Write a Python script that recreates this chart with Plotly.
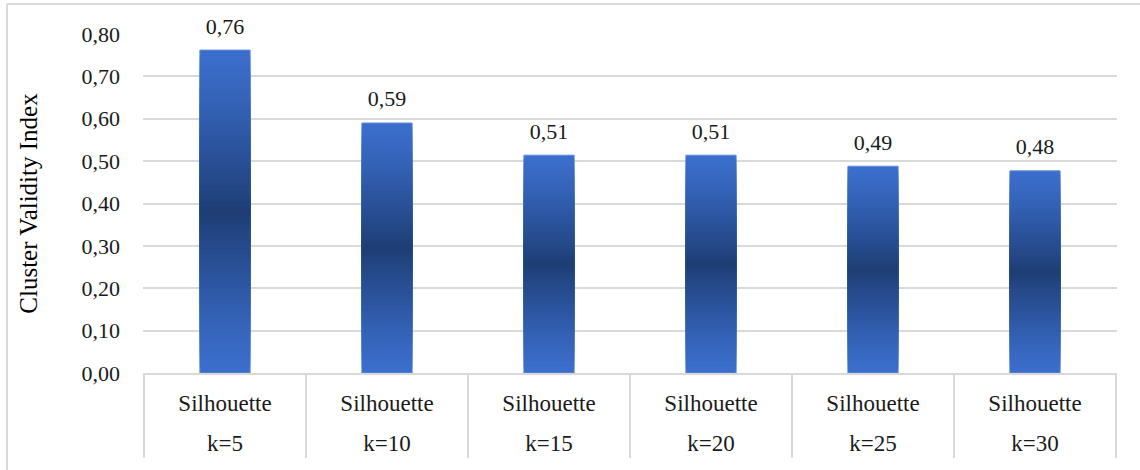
import plotly.graph_objects as go

# ---- data ----
methods = ["Silhouette"] * 6
k_labels = ["k=5", "k=10", "k=15", "k=20", "k=25", "k=30"]
values = [0.762, 0.590, 0.514, 0.514, 0.488, 0.477]
y_tickvals = [0.0, 0.1, 0.2, 0.3, 0.4, 0.5, 0.6, 0.7, 0.8]

FONT = "Liberation Serif, Times New Roman, serif"
TXT = "#1a1a1a"
GRID = "#d9d9d9"
LIGHT = (59, 110, 204)
DARK = (31, 62, 118)

fig = go.Figure()

# gradient: nested bars centred on half height, darker toward the middle
N = 30
for i in range(N):
    f = i / (N - 1)          # 0 -> outer, 1 -> inner
    frac = 1 - f * 0.97      # relative height of this layer
    c = tuple(int(round(LIGHT[j] + (DARK[j] - LIGHT[j]) * f ** 1.2)) for j in range(3))
    bases = [v / 2 * (1 - frac) for v in values]
    heights = [v * frac for v in values]
    fig.add_trace(go.Bar(
        x=k_labels, y=heights, base=bases,
        marker=dict(color="rgb(%d,%d,%d)" % c,
                    line=dict(width=1 if i == 0 else 0, color="rgb(95,140,215)")),
        showlegend=False, hoverinfo="skip",
    ))

# value labels (second x axis carries the k labels row)
fig.add_trace(go.Scatter(
    x=k_labels, y=values, mode="markers+text", xaxis="x2",
    marker=dict(size=16, opacity=0),
    texttemplate="%{y:.2f}",
    textposition="top center",
    textfont=dict(family=FONT, size=22, color=TXT),
    cliponaxis=False,
    showlegend=False, hoverinfo="skip",
))

# category dividers below the axis (category boundaries)
dividers = [dict(type="line", xref="x", yref="paper", x0=i - 0.5, x1=i - 0.5, y0=0, y1=-85 / 339,
                 line=dict(color=GRID, width=2)) for i in range(len(k_labels) + 1)]

fig.update_layout(
    width=1140, height=470,
    margin=dict(l=143, r=23, t=34, b=97),
    paper_bgcolor="white", plot_bgcolor="white",
    barmode="overlay", bargap=0.69,
    separators=", ",
    font=dict(family=FONT, size=22, color=TXT),
    shapes=[
        dict(type="line", xref="paper", yref="paper", x0=-0.14, x1=1.1, y0=1.0885, y1=1.0885,
             line=dict(color=GRID, width=2)),
        dict(type="line", xref="paper", yref="paper", x0=-0.1396, x1=-0.1396, y0=1.0885, y1=-0.3,
             line=dict(color=GRID, width=2)),
    ] + dividers,
    xaxis=dict(
        type="category", tickvals=k_labels, ticktext=methods,
        showline=True, linecolor=GRID, linewidth=2,
        showgrid=False, ticks="", ticklabelstandoff=8,
        tickfont=dict(family=FONT, size=23, color=TXT),
    ),
    xaxis2=dict(
        type="category", overlaying="x", matches="x", anchor="y", side="bottom",
        showline=False, showgrid=False, ticks="", ticklabelstandoff=54,
        tickfont=dict(family=FONT, size=23, color=TXT),
    ),
    yaxis=dict(
        range=[0, 0.8], tickvals=y_tickvals, tickformat=".2f",
        showgrid=True, gridcolor=GRID, gridwidth=2,
        zeroline=False, showline=False,
        ticklabelstandoff=22,
        tickfont=dict(family=FONT, size=22, color=TXT),
        title=dict(text="Cluster Validity Index", font=dict(family=FONT, size=25, color="#000000"),
                   standoff=36),
    ),
)

fig.write_html("out.html")
